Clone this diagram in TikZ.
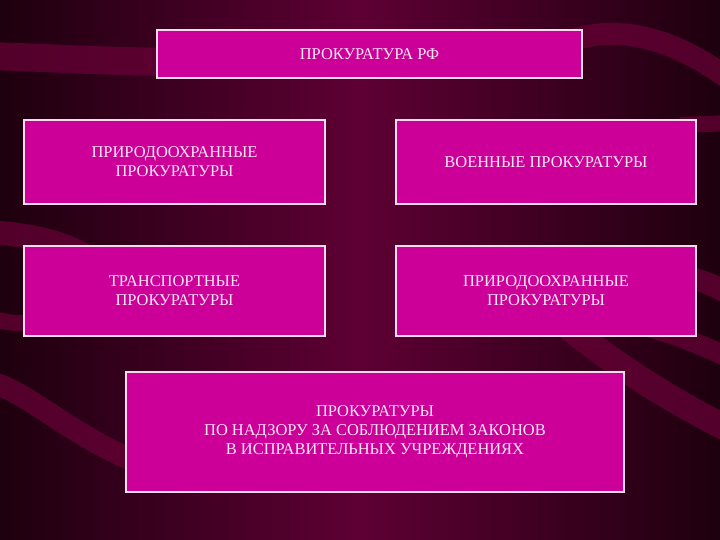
\documentclass[tikz,border=0pt]{standalone}
\usepackage{fontspec}
\setmainfont{Liberation Serif}
\definecolor{bgdark}{HTML}{1E000E}
\definecolor{bgmid}{HTML}{5E0034}
\definecolor{ribbon}{HTML}{6A0038}
\definecolor{boxfill}{HTML}{CC0099}
\definecolor{boxline}{HTML}{F4DCEC}
\definecolor{boxtext}{HTML}{F8E8F4}
\tikzset{
  panel/.style={draw=boxline, line width=1.2bp, fill=boxfill, text=boxtext,
    inner sep=0pt, align=center, font=\fontsize{16.5}{19}\selectfont},
  rib/.style={draw=ribbon, line cap=butt, opacity=0.7}
}
\begin{document}
\begin{tikzpicture}[x=1bp,y=-1bp]
\useasboundingbox (0,0) rectangle (720,540);
% background
\shade[left color=bgdark, right color=bgdark, middle color=bgmid] (0,0) rectangle (720,540);
% ribbons
\draw[rib, line width=28bp] (-10,56) .. controls (50,58) and (110,62) .. (200,62);
\draw[rib, line width=22bp] (560,45) .. controls (610,22) and (670,35) .. (730,80);
\draw[rib, line width=16bp] (680,125) -- (730,123);
\draw[rib, line width=24bp] (-10,232) .. controls (40,236) and (80,245) .. (110,275);
\draw[rib, line width=16bp] (-10,318) .. controls (5,322) and (20,326) .. (40,320);
\draw[rib, line width=22bp] (-10,382) .. controls (40,395) and (90,460) .. (200,480);
\draw[rib, line width=22bp] (680,275) .. controls (700,280) and (715,285) .. (730,295);
\draw[rib, line width=20bp] (640,325) .. controls (680,335) and (700,345) .. (730,358);
\draw[rib, line width=26bp] (560,320) .. controls (620,370) and (680,405) .. (730,430);
% boxes
\node[panel, minimum width=425bp, minimum height=48bp] (rf) at (369.5,54) {ПРОКУРАТУРА РФ};
\node[panel, minimum width=301bp, minimum height=84bp] (p1) at (174.5,162) {ПРИРОДООХРАННЫЕ\\ПРОКУРАТУРЫ};
\node[panel, minimum width=300bp, minimum height=84bp] (v) at (546,162) {ВОЕННЫЕ ПРОКУРАТУРЫ};
\node[panel, minimum width=301bp, minimum height=90bp] (t) at (174.5,291) {ТРАНСПОРТНЫЕ\\ПРОКУРАТУРЫ};
\node[panel, minimum width=300bp, minimum height=90bp] (p2) at (546,291) {ПРИРОДООХРАННЫЕ\\ПРОКУРАТУРЫ};
\node[panel, minimum width=498bp, minimum height=120bp] (u) at (375,432) {ПРОКУРАТУРЫ\\ПО НАДЗОРУ ЗА СОБЛЮДЕНИЕМ ЗАКОНОВ\\В ИСПРАВИТЕЛЬНЫХ УЧРЕЖДЕНИЯХ};
\end{tikzpicture}
\end{document}
